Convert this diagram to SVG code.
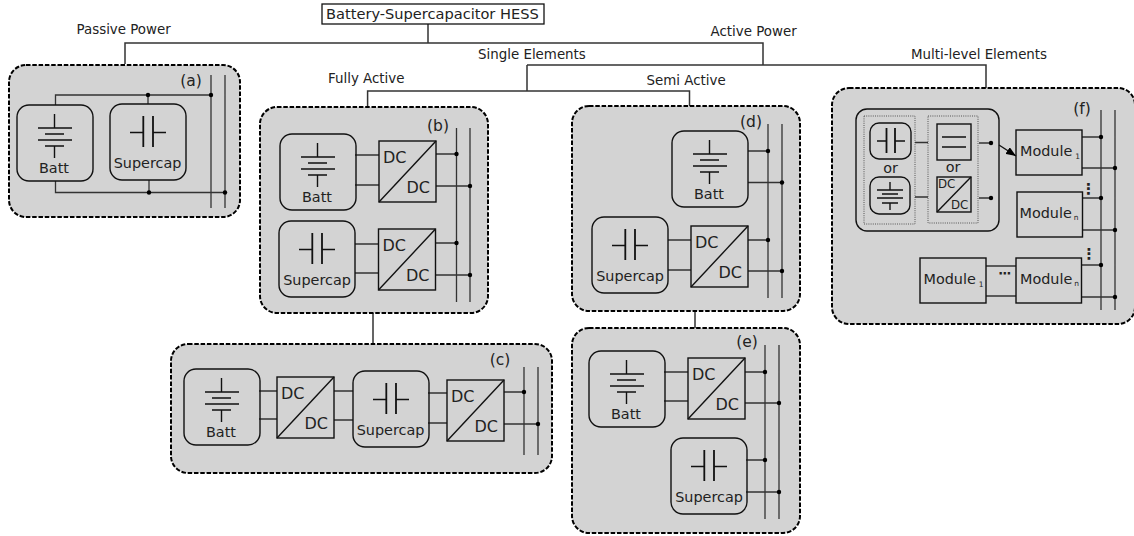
<svg xmlns="http://www.w3.org/2000/svg" width="1134" height="536" viewBox="0 0 1134 536">
<style>
text{font-family:"DejaVu Sans",Verdana,sans-serif;fill:#222}
.lb{font-size:13.4px}
.rt{font-size:14.6px}
.n{font-size:14.4px;text-anchor:middle}
.tag{font-size:15.5px;text-anchor:middle}
.dc{font-size:16px}
.sdc{font-size:11.8px}
.m{font-size:14.4px}
.sub{font-size:7.5px}
.panel{fill:#d3d3d3;stroke:#000;stroke-width:2;stroke-dasharray:4.5 1.8}
.box{fill:none;stroke:#111;stroke-width:1.4}
.w{fill:none;stroke:#333;stroke-width:1.3}
.t{fill:none;stroke:#333;stroke-width:1.5}
.sym{fill:none;stroke:#111;stroke-width:1.4}
.pl{fill:none;stroke:#111;stroke-width:1.8}
.dot{fill:#000}
.dots{fill:none;stroke:#555;stroke-width:1;stroke-dasharray:1 1.2}
</style>
<defs>
<g id="batt"><rect class="box" width="76" height="76" rx="12"/><path class="sym" d="M37.5 9V23M21 23H55M28 29H47M21 35H55M28 41H47M37.5 41V53"/></g>
<g id="cap"><rect class="box" width="76" height="76" rx="12"/><path class="pl" d="M33.3 12V43M43 12V43"/><path class="sym" d="M20 28.5H33.3M43 28.5H56"/></g>
<g id="conv"><rect class="box" width="57" height="61"/><path class="sym" d="M0 61L57 0"/></g>
<circle id="d" class="dot" r="2.2"/>
<marker id="arr" markerWidth="10" markerHeight="8" refX="10" refY="4" orient="auto" markerUnits="userSpaceOnUse"><path d="M0 0L10 4L0 8Z" fill="#000"/></marker>
</defs>

<g id="connectors">
<path class="t" d="M428 24V43M125 64V43H763V65M527 65H986V88M527 65V91M367.600 107V91H689.500V107M373 313V344M695 311V329"/>
</g>

<g id="root"><rect x="322" y="4" width="222" height="20" fill="#fff" stroke="#111" stroke-width="1.3"/><text class="rt" x="326" y="19">Battery-Supercapacitor HESS</text></g>
<g id="label-passive"><text class="lb" x="76.500" y="34">Passive Power</text></g>
<g id="label-active"><text class="lb" x="710.500" y="36">Active Power</text></g>
<g id="label-single"><text class="lb" x="478" y="59">Single Elements</text></g>
<g id="label-multi"><text class="lb" x="911" y="59">Multi-level Elements</text></g>
<g id="label-fully"><text class="lb" x="328" y="83">Fully Active</text></g>
<g id="label-semi"><text class="lb" x="646.500" y="85">Semi Active</text></g>

<g id="panel-a">
<rect class="panel" x="9" y="65" width="231" height="152" rx="17"/>
<text class="tag" x="191" y="86">(a)</text>
<path class="w" d="M55.500 105V95H211M148 95V104M55.500 181V192.500H225M149 180V192.500M211 75V208M225 75V208"/>
<use href="#batt" x="17" y="105"/><text class="n" x="54" y="173">Batt</text>
<use href="#cap" x="110" y="104"/><text class="n" x="147.500" y="168">Supercap</text>
<use href="#d" x="148" y="95"/><use href="#d" x="211" y="95"/><use href="#d" x="149" y="192.500"/><use href="#d" x="225" y="192.500"/>
</g>

<g id="panel-b">
<rect class="panel" x="260" y="107" width="228" height="206" rx="17"/>
<text class="tag" x="438" y="131">(b)</text>
<path class="w" d="M355 155H379M355 185H379M436 154H456.500M436 186H470M355 244H378.500M355 273H378.500M435.500 243H456.500M435.500 275H470M456.500 128V302M470 128V302"/>
<use href="#batt" x="280" y="134"/><text class="n" x="317" y="202">Batt</text>
<use href="#cap" x="279" y="221"/><text class="n" x="317" y="285">Supercap</text>
<use href="#conv" x="379" y="141"/><text class="dc" x="383" y="163">DC</text><text class="dc" x="406.500" y="193">DC</text>
<use href="#conv" x="378.500" y="229"/><text class="dc" x="382.500" y="251">DC</text><text class="dc" x="406" y="281">DC</text>
<use href="#d" x="456.500" y="154"/><use href="#d" x="470" y="186"/><use href="#d" x="456.500" y="243"/><use href="#d" x="470" y="275"/>
</g>

<g id="panel-c">
<rect class="panel" x="171" y="344" width="381" height="129" rx="17"/>
<text class="tag" x="500" y="365">(c)</text>
<path class="w" d="M259 391H277M259 419H277M334 391H353M334 420H353M428 393H447M428 423H447M504 392H524M504 424H538M524 367V455M538 367V455"/>
<use href="#batt" x="184" y="369"/><text class="n" x="221" y="437">Batt</text>
<use href="#conv" x="277" y="377"/><text class="dc" x="281" y="399">DC</text><text class="dc" x="304.500" y="429">DC</text>
<use href="#cap" x="353" y="371"/><text class="n" x="390.500" y="435">Supercap</text>
<use href="#conv" x="447" y="380"/><text class="dc" x="451" y="402">DC</text><text class="dc" x="474.500" y="432">DC</text>
<use href="#d" x="524" y="392"/><use href="#d" x="538" y="424"/>
</g>

<g id="panel-d">
<rect class="panel" x="572" y="106" width="228" height="205" rx="17"/>
<text class="tag" x="751" y="127">(d)</text>
<path class="w" d="M748 151H768M748 182.500H782M668 240H691M668 270H691M748 240H768M748 271H782M768 124V298M782 124V298"/>
<use href="#batt" x="672" y="131"/><text class="n" x="709" y="199">Batt</text>
<use href="#cap" x="592" y="217"/><text class="n" x="630" y="281">Supercap</text>
<use href="#conv" x="691" y="226"/><text class="dc" x="695" y="248">DC</text><text class="dc" x="718.500" y="278">DC</text>
<use href="#d" x="768" y="151"/><use href="#d" x="782" y="182.500"/><use href="#d" x="768" y="240"/><use href="#d" x="782" y="271"/>
</g>

<g id="panel-e">
<rect class="panel" x="572" y="328" width="228" height="205" rx="17"/>
<text class="tag" x="747" y="347">(e)</text>
<path class="w" d="M664 372H688M664 401H688M745 372H765M745 403H779M746 460H765M746 492H779M765 345V519M779 345V519"/>
<use href="#batt" x="589" y="351"/><text class="n" x="626" y="419">Batt</text>
<use href="#conv" x="688" y="358"/><text class="dc" x="692" y="380">DC</text><text class="dc" x="715.500" y="410">DC</text>
<use href="#cap" x="671" y="438"/><text class="n" x="709" y="502">Supercap</text>
<use href="#d" x="765" y="372"/><use href="#d" x="779" y="403"/><use href="#d" x="765" y="460"/><use href="#d" x="779" y="492"/>
</g>

<g id="panel-f">
<rect class="panel" x="832" y="88" width="303" height="236" rx="17"/>
<text class="tag" x="1082" y="114">(f)</text>
<rect class="box" x="856" y="109" width="143" height="122" rx="11"/>
<rect class="dots" x="864" y="116" width="51" height="108"/>
<rect class="dots" x="928" y="116" width="50" height="107"/>
<rect class="box" x="870" y="123" width="41" height="36" rx="9"/>
<path class="pl" d="M886.500 128V153M895 128V153"/><path class="sym" d="M877 141H886.500M895 141H905"/>
<text class="n" x="890.500" y="173">or</text>
<rect class="box" x="870" y="177" width="40" height="37" rx="9"/>
<path class="sym" d="M890 182V190M877 190H903M882 194H898M877 198H903M882 203H898M890 203V210"/>
<rect class="box" x="937" y="124" width="34" height="36"/><path class="sym" d="M942 137H966M942 147H966"/>
<text class="n" x="953" y="172">or</text>
<rect class="box" x="937" y="177" width="34" height="35"/><path class="sym" d="M937 212L971 177"/>
<text class="sdc" x="938" y="188">DC</text><text class="sdc" x="951" y="209">DC</text>
<path class="w" d="M915 142.500H928M915 197H928M979 143H991M979 198H991"/>
<use href="#d" x="991" y="143"/><use href="#d" x="991" y="198"/>
<path class="sym" d="M999 145L1016 156" marker-end="url(#arr)"/>
<path class="w" d="M1082 137H1101M1082 168H1115M1082.500 198H1101M1082.500 230H1115M1081.500 265H1101M1081.500 297H1115M986 266H1016M986 296H1016M1101 110V310M1115 110V310"/>
<rect class="box" x="1016" y="130" width="66" height="45"/><text class="m" x="1020" y="156">Module<tspan class="sub" dx="3" dy="3">1</tspan></text>
<rect class="box" x="1017" y="192" width="65.500" height="45"/><text class="m" x="1019.500" y="218">Module<tspan class="sub" dx="2" dy="1.500">n</tspan></text>
<rect class="box" x="1016" y="258" width="65.500" height="45"/><text class="m" x="1020" y="284">Module<tspan class="sub" dx="2" dy="1.500">n</tspan></text>
<rect class="box" x="920" y="258" width="66" height="45"/><text class="m" x="923.500" y="284">Module<tspan class="sub" dx="3" dy="3">1</tspan></text>
<text x="1005" y="278" text-anchor="middle" style="font-size:13px;font-weight:bold">⋯</text>
<text x="1088.500" y="194" text-anchor="middle" style="font-size:15px;font-weight:bold">⋮</text>
<text x="1089" y="259" text-anchor="middle" style="font-size:15px;font-weight:bold">⋮</text>
<use href="#d" x="1101" y="137"/><use href="#d" x="1115" y="168"/><use href="#d" x="1101" y="198"/><use href="#d" x="1115" y="230"/><use href="#d" x="1101" y="265"/><use href="#d" x="1115" y="297"/>
</g>
</svg>
